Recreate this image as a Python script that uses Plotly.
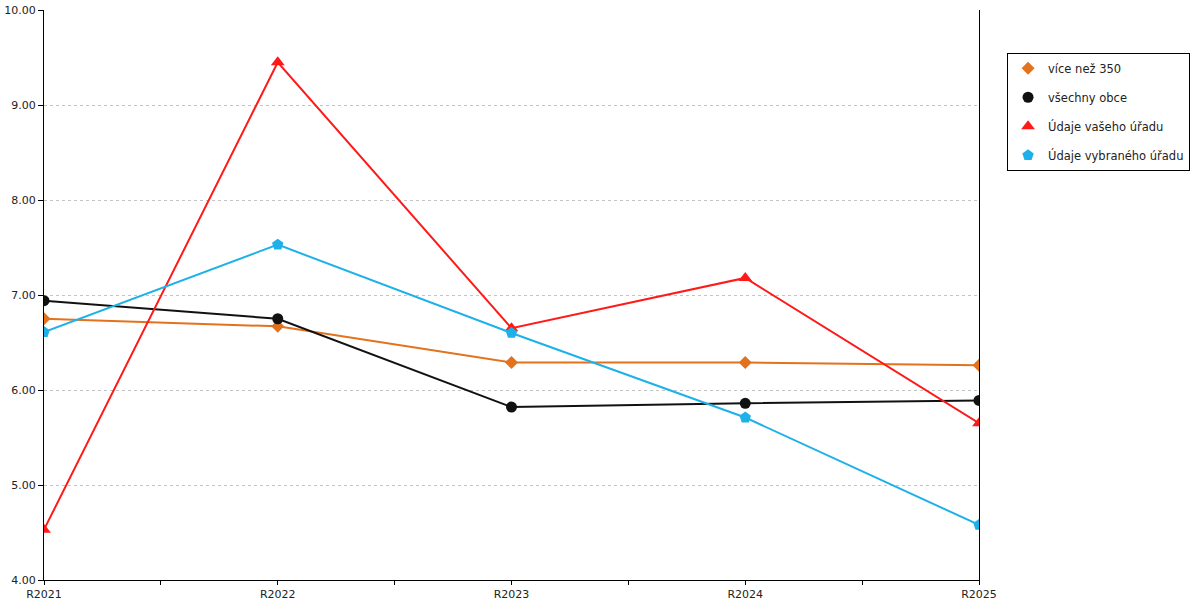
import plotly.graph_objects as go

years = ['R2021', 'R2022', 'R2023', 'R2024', 'R2025']

# values
vice_nez_350 = [6.75, 6.67, 6.29, 6.29, 6.26]
vsechny_obce = [6.94, 6.75, 5.82, 5.86, 5.89]
vas_urad = [4.53, 9.45, 6.65, 7.18, 5.65]
vybrany_urad = [6.61, 7.53, 6.60, 5.71, 4.58]

series = [
    ('více než 350', vice_nez_350, '#E2731C', 'diamond', 10),
    ('všechny obce', vsechny_obce, '#111111', 'circle', 11),
    ('Údaje vašeho úřadu', vas_urad, '#FF1A1A', 'triangle-up', 12),
    ('Údaje vybraného úřadu', vybrany_urad, '#1EB1E9', 'pentagon', 12),
]

fig = go.Figure()
x_pos = list(range(len(years)))

for name, values, color, symbol, size in series:
    fig.add_trace(go.Scatter(
        x=x_pos, y=values, name=name, mode='lines+markers',
        line=dict(color=color, width=2),
        marker=dict(symbol=symbol, size=size, color=color),
        showlegend=False, legendgroup=name,
    ))
    # marker-only entry for the legend
    fig.add_trace(go.Scatter(
        x=[None], y=[None], name=name, mode='markers', legendgroup=name,
        marker=dict(symbol=symbol, size=size, color=color),
    ))

fig.update_layout(
    width=1200, height=600,
    margin=dict(l=44, r=217, t=10, b=20),
    plot_bgcolor='white', paper_bgcolor='white',
    font=dict(family='DejaVu Sans', size=11, color='#222'),
    legend=dict(
        x=1.03, y=0.925, xanchor='left', yanchor='top',
        bordercolor='black', borderwidth=1, bgcolor='white',
        font=dict(size=11.5), traceorder='grouped', tracegroupgap=10,
    ),
)

fig.update_xaxes(
    range=[0, 4], tickvals=x_pos, ticktext=years, automargin=False,
    showgrid=False, zeroline=False,
    showline=True, linecolor='black', linewidth=1,
    ticks='outside', ticklen=4, tickcolor='black',
    minor=dict(dtick=0.5, tick0=0, ticks='outside', ticklen=4, tickcolor='black', showgrid=False),
)
fig.update_yaxes(
    range=[4, 10], dtick=1, tickformat='.2f', automargin=False,
    showgrid=True, gridcolor='#c4c4c4', griddash='dot', gridwidth=1,
    zeroline=False,
    showline=True, linecolor='black', linewidth=1, mirror=True,
    ticks='outside', ticklen=5, tickcolor='black',
)

# drop the browser's default page margin so the figure sits at 0,0
fig.write_html('out.html', config={'displayModeBar': False},
               post_script="document.body.style.margin='0';")
